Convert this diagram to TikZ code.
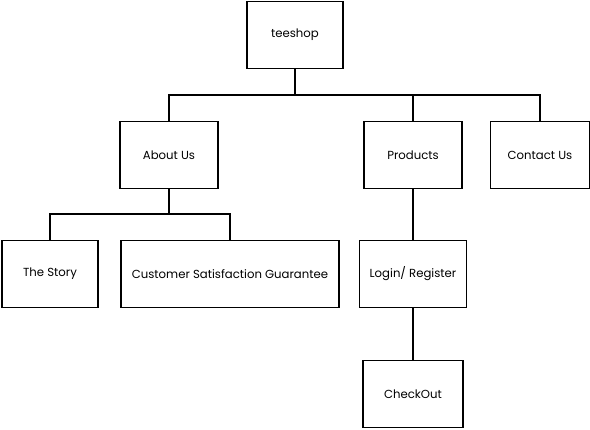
\documentclass[tikz,border=0pt]{standalone}
\usepackage{fontspec}
\setmainfont{Poppins}
\begin{document}
\begin{tikzpicture}[x=1pt,y=-1pt,
  box/.style={draw=black,line width=1.6pt,fill=white,minimum height=67pt,inner sep=2pt,font=\fontsize{11.7}{13}\selectfont},
  link/.style={draw=black,line width=1.6pt}]
\useasboundingbox (0,0) rectangle (590,430);
\node[box,minimum width=96pt] (teeshop) at (295,35) {teeshop};
\node[box,minimum width=98pt] (about) at (169,155) {About Us};
\node[box,minimum width=98pt] (products) at (413,155) {Products};
\node[box,minimum width=99pt] (contact) at (540,155) {Contact Us};
\node[box,minimum width=96pt] (story) at (50,274) {The Story};
\node[box,minimum width=218pt] (csg) at (230,274) {Customer Satisfaction Guarantee};
\node[box,minimum width=107pt] (login) at (413,274) {Login/ Register};
\node[box,minimum width=100pt] (checkout) at (413,394) {CheckOut};
\coordinate (j1) at (295,95);
\coordinate (j2) at (169,214);
\draw[link] (teeshop.south) -- (j1);
\draw[link] (j1) -| (about.north);
\draw[link] (j1) -| (products.north);
\draw[link] (j1) -| (contact.north);
\draw[link] (about.south) -- (j2);
\draw[link] (j2) -| (story.north);
\draw[link] (j2) -| (csg.north);
\draw[link] (products.south) -- (login.north);
\draw[link] (login.south) -- (checkout.north);
\end{tikzpicture}
\end{document}
